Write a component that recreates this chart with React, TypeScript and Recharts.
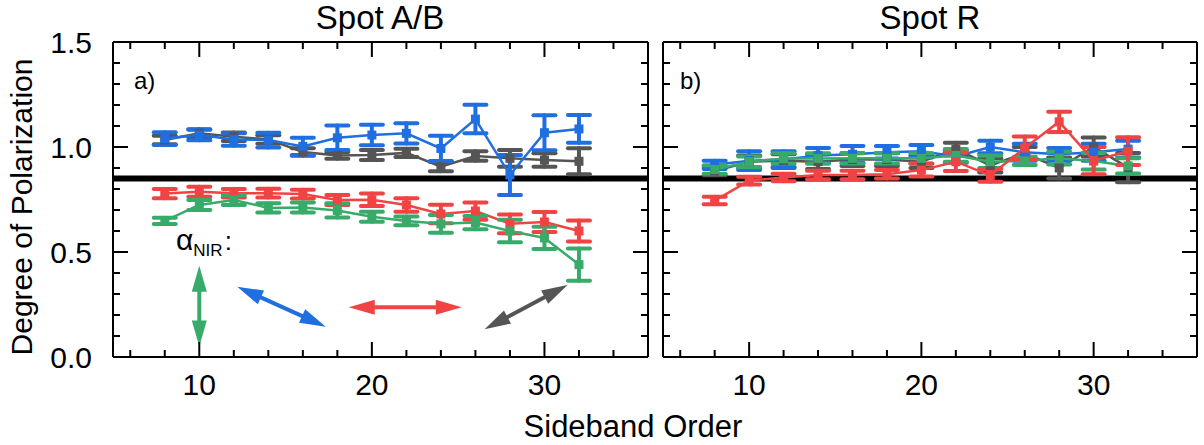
import React from 'react';
import { LineChart, Line, XAxis, YAxis, ErrorBar, ReferenceLine } from 'recharts';

const FONT = '"Liberation Sans", Arial, Helvetica, sans-serif';
const BLUE = '#1f6fe0';
const GRAY = '#555555';
const RED = '#f04444';
const GREEN = '#38aa6a';

// Sideband orders (x values shared by every series)
const orders = [8, 10, 12, 14, 16, 18, 20, 22, 24, 26, 28, 30, 32];

// Spot A/B
const abBlue = [1.04, 1.057, 1.036, 1.033, 1.003, 1.044, 1.057, 1.065, 0.993, 1.133, 0.867, 1.068, 1.086];
const abBlueErr = [0.03, 0.025, 0.03, 0.035, 0.041, 0.058, 0.049, 0.048, 0.06, 0.068, 0.095, 0.083, 0.066];
const abGray = [1.033, 1.065, 1.049, 1.036, 0.976, 0.96, 0.962, 0.972, 0.906, 0.957, 0.946, 0.938, 0.932];
const abGrayErr = [0.02, 0.02, 0.02, 0.02, 0.018, 0.016, 0.024, 0.02, 0.022, 0.023, 0.04, 0.032, 0.062];
const abRed = [0.778, 0.787, 0.78, 0.78, 0.776, 0.748, 0.749, 0.724, 0.681, 0.695, 0.634, 0.643, 0.6];
const abRedErr = [0.022, 0.024, 0.02, 0.021, 0.021, 0.024, 0.03, 0.032, 0.044, 0.041, 0.045, 0.048, 0.05];
const abGreen = [0.648, 0.724, 0.748, 0.71, 0.712, 0.698, 0.668, 0.648, 0.634, 0.64, 0.6, 0.567, 0.44];
const abGreenErr = [0.015, 0.024, 0.024, 0.022, 0.024, 0.034, 0.024, 0.021, 0.042, 0.032, 0.053, 0.053, 0.077];

// Spot R
const rBlue = [0.915, 0.935, 0.94, 0.96, 0.965, 0.975, 0.98, 0.955, 1.0, 0.975, 0.965, 0.975, 0.99];
const rBlueErr = [0.02, 0.045, 0.04, 0.035, 0.04, 0.03, 0.03, 0.03, 0.03, 0.04, 0.03, 0.04, 0.04];
const rGray = [0.885, 0.93, 0.935, 0.93, 0.94, 0.94, 0.93, 0.99, 0.912, 0.97, 0.9, 1.0, 0.902];
const rGrayErr = [0.02, 0.03, 0.03, 0.035, 0.03, 0.03, 0.03, 0.03, 0.034, 0.03, 0.05, 0.045, 0.07];
const rGreen = [0.893, 0.93, 0.945, 0.945, 0.946, 0.946, 0.946, 0.96, 0.93, 0.934, 0.947, 0.933, 0.91];
const rGreenErr = [0.02, 0.025, 0.025, 0.025, 0.025, 0.025, 0.024, 0.03, 0.03, 0.02, 0.03, 0.04, 0.036];
const rRed = [0.745, 0.84, 0.855, 0.867, 0.867, 0.87, 0.89, 0.93, 0.865, 0.995, 1.12, 0.935, 0.98];
const rRedErr = [0.018, 0.018, 0.018, 0.02, 0.02, 0.02, 0.03, 0.044, 0.03, 0.055, 0.048, 0.065, 0.066];

// Axes
const xDomain = [5, 36];
const xTicks = [6, 8, 10, 12, 14, 16, 18, 20, 22, 24, 26, 28, 30, 32, 34];
const xMajor = [10, 20, 30];
const yDomain = [0, 1.5];
const yTicks = [0, 0.1, 0.2, 0.3, 0.4, 0.5, 0.6, 0.7, 0.8, 0.9, 1.0, 1.1, 1.2, 1.3, 1.4, 1.5];
const yMajor = [0, 0.5, 1.0, 1.5];
const refLevel = 0.85;

// Polarization-direction arrows (data coordinates)
const arrowGreen = [{ x: 10, y: 0.435 }, { x: 10, y: 0.05 }];
const arrowBlue = [{ x: 12.2, y: 0.335 }, { x: 17.33, y: 0.144 }];
const arrowRed = [{ x: 18.66, y: 0.237 }, { x: 25.21, y: 0.237 }];
const arrowGray = [{ x: 26.53, y: 0.132 }, { x: 31.34, y: 0.343 }];

const buildRows = (
  blue: number[], blueErr: number[], gray: number[], grayErr: number[],
  red: number[], redErr: number[], green: number[], greenErr: number[]
) =>
  orders.map((o, i) => ({
    order: o,
    blue: blue[i], blueErr: blueErr[i],
    gray: gray[i], grayErr: grayErr[i],
    red: red[i], redErr: redErr[i],
    green: green[i], greenErr: greenErr[i],
  }));

const abRows = buildRows(abBlue, abBlueErr, abGray, abGrayErr, abRed, abRedErr, abGreen, abGreenErr);
const rRows = buildRows(rBlue, rBlueErr, rGray, rGrayErr, rRed, rRedErr, rGreen, rGreenErr);

const isMajorY = (v: number) => yMajor.some((m) => Math.abs(m - v) < 1e-6);

const MAJOR = 15;
const MINOR = 7;

const BottomTick = (props: any) => {
  const { x, y, payload } = props;
  const major = xMajor.includes(payload.value);
  return (
    <g>
      <line x1={x} x2={x} y1={y} y2={y - (major ? MAJOR : MINOR)} stroke="#000" strokeWidth={2} />
      {major && (
        <text x={x} y={y + 38} textAnchor="middle" fontSize={30} fontFamily={FONT} fill="#000">
          {payload.value}
        </text>
      )}
    </g>
  );
};

const TopTick = (props: any) => {
  const { x, y, payload } = props;
  const major = xMajor.includes(payload.value);
  return <line x1={x} x2={x} y1={y} y2={y + (major ? MAJOR : MINOR)} stroke="#000" strokeWidth={2} />;
};

const makeLeftTick = (withLabels: boolean) => (props: any) => {
  const { x, y, payload } = props;
  const major = isMajorY(payload.value);
  return (
    <g>
      <line x1={x} x2={x + (major ? MAJOR : MINOR)} y1={y} y2={y} stroke="#000" strokeWidth={2} />
      {withLabels && major && (
        <text x={x - 21} y={y + 11} textAnchor="end" fontSize={30} fontFamily={FONT} fill="#000">
          {payload.value.toFixed(1)}
        </text>
      )}
    </g>
  );
};

const RightTick = (props: any) => {
  const { x, y, payload } = props;
  const major = isMajorY(payload.value);
  return <line x1={x} x2={x - (major ? MAJOR : MINOR)} y1={y} y2={y} stroke="#000" strokeWidth={2} />;
};

const squareDot = (color: string) => (p: any) => {
  if (p.cx == null || p.cy == null) return <g key={p.key} />;
  return <rect key={p.key} x={p.cx - 4.5} y={p.cy - 4.5} width={9} height={9} fill={color} />;
};

const doubleArrow = (color: string) => (p: any) => {
  const { x1, y1, x2, y2 } = p;
  const dx = x2 - x1;
  const dy = y2 - y1;
  const len = Math.hypot(dx, dy) || 1;
  const ux = dx / len;
  const uy = dy / len;
  const px = -uy;
  const py = ux;
  const head = 26;
  const hw = 7.5;
  const b1x = x1 + ux * head;
  const b1y = y1 + uy * head;
  const b2x = x2 - ux * head;
  const b2y = y2 - uy * head;
  return (
    <g>
      <line x1={b1x - ux * 2} y1={b1y - uy * 2} x2={b2x + ux * 2} y2={b2y + uy * 2} stroke={color} strokeWidth={4} />
      <polygon
        points={`${x1},${y1} ${b1x + px * hw},${b1y + py * hw} ${b1x - px * hw},${b1y - py * hw}`}
        fill={color}
      />
      <polygon
        points={`${x2},${y2} ${b2x + px * hw},${b2y + py * hw} ${b2x - px * hw},${b2y - py * hw}`}
        fill={color}
      />
    </g>
  );
};

const series = (key: string, color: string) => (
  <Line
    key={key}
    dataKey={key}
    stroke={color}
    strokeWidth={2.5}
    dot={squareDot(color)}
    activeDot={false}
    isAnimationActive={false}
  >
    <ErrorBar dataKey={`${key}Err`} width={11} strokeWidth={4} stroke={color} strokeLinecap="round" direction="y" />
  </Line>
);

// Frame: bottom/top x axes and left/right y axes, all with inward ticks
const axes = (withLabels: boolean) => [
  <XAxis
    key="xb"
    dataKey="order"
    type="number"
    domain={xDomain}
    ticks={xTicks}
    interval={0}
    height={1}
    tickSize={0}
    tickMargin={0}
    tickLine={false}
    axisLine={{ stroke: '#000', strokeWidth: 2 }}
    tick={BottomTick}
    allowDataOverflow
  />,
  <XAxis
    key="xt"
    xAxisId="top"
    orientation="top"
    dataKey="order"
    type="number"
    domain={xDomain}
    ticks={xTicks}
    interval={0}
    height={1}
    tickSize={0}
    tickMargin={0}
    tickLine={false}
    axisLine={{ stroke: '#000', strokeWidth: 2 }}
    tick={TopTick}
    allowDataOverflow
  />,
  <YAxis
    key="yl"
    type="number"
    domain={yDomain}
    ticks={yTicks}
    interval={0}
    width={60}
    tickSize={0}
    tickMargin={0}
    tickLine={false}
    axisLine={{ stroke: '#000', strokeWidth: 2 }}
    tick={makeLeftTick(withLabels)}
    allowDataOverflow
  />,
  <YAxis
    key="yr"
    yAxisId="r"
    orientation="right"
    type="number"
    domain={yDomain}
    ticks={yTicks}
    interval={0}
    width={1}
    tickSize={0}
    tickMargin={0}
    tickLine={false}
    axisLine={{ stroke: '#000', strokeWidth: 2 }}
    tick={RightTick}
    allowDataOverflow
  />,
];

export default function App() {
  return (
    <div style={{ position: 'absolute', left: 0, top: 0, width: 1204, height: 445, background: '#fff', fontFamily: FONT }}>
      <div style={{ position: 'absolute', left: 0, top: 0 }}>
        <LineChart width={660} height={445} data={abRows} margin={{ top: 41, right: 11, bottom: 87, left: 53 }}>
          {axes(true)}
          <ReferenceLine y={refLevel} stroke="#000" strokeWidth={6} />
          {series('gray', GRAY)}
          {series('blue', BLUE)}
          {series('red', RED)}
          {series('green', GREEN)}
          <ReferenceLine segment={arrowGreen} stroke={GREEN} shape={doubleArrow(GREEN)} />
          <ReferenceLine segment={arrowBlue} stroke={BLUE} shape={doubleArrow(BLUE)} />
          <ReferenceLine segment={arrowRed} stroke={RED} shape={doubleArrow(RED)} />
          <ReferenceLine segment={arrowGray} stroke={GRAY} shape={doubleArrow(GRAY)} />
        </LineChart>
      </div>
      <div style={{ position: 'absolute', left: 603, top: 0 }}>
        <LineChart width={601} height={445} data={rRows} margin={{ top: 41, right: 6, bottom: 87, left: 0 }}>
          {axes(false)}
          <ReferenceLine y={refLevel} stroke="#000" strokeWidth={6} />
          {series('gray', GRAY)}
          {series('blue', BLUE)}
          {series('green', GREEN)}
          {series('red', RED)}
        </LineChart>
      </div>
      <svg
        width={1204}
        height={445}
        style={{ position: 'absolute', left: 0, top: 0, pointerEvents: 'none' }}
        fontFamily={FONT}
      >
        <text x={380} y={29} textAnchor="middle" fontSize={33} fill="#000">Spot A/B</text>
        <text x={930} y={29} textAnchor="middle" fontSize={33} fill="#000">Spot R</text>
        <text x={134} y={89} fontSize={24} fill="#000">a)</text>
        <text x={680} y={89} fontSize={24} fill="#000">b)</text>
        <text
          x={32}
          y={207}
          textAnchor="middle"
          fontSize={30}
          fill="#000"
          transform="rotate(-90 32 207)"
        >
          Degree of Polarization
        </text>
        <text x={633} y={437} textAnchor="middle" fontSize={31} fill="#000">Sideband Order</text>
        <text x={176} y={250} fontSize={30} fill="#000">
          α<tspan fontSize={17} dy={6}>NIR</tspan>
          <tspan fontSize={26} dy={-6} dx={2}>:</tspan>
        </text>
      </svg>
    </div>
  );
}
